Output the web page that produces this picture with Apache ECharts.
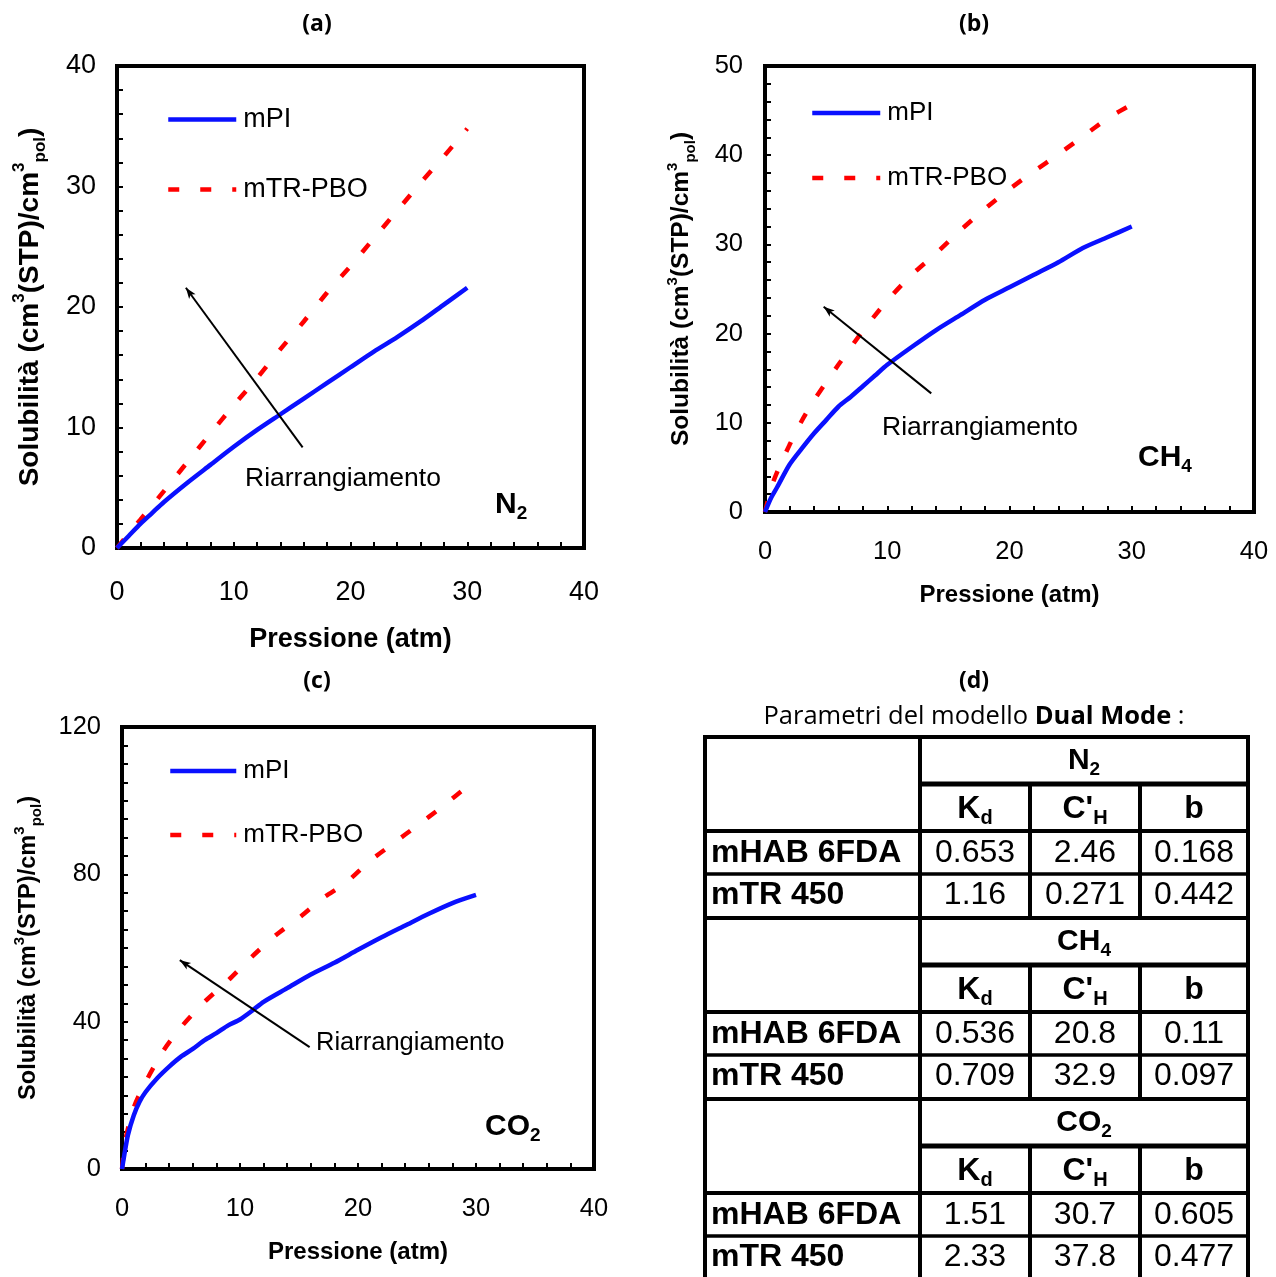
<!DOCTYPE html>
<html>
<head>
<meta charset="utf-8">
<script src="https://cdn.jsdelivr.net/npm/echarts@6/dist/echarts.min.js"></script>
<style>
html,body{margin:0;padding:0;background:#fff;}
#chart{width:1276px;height:1277px;}
</style>
</head>
<body>
<div id="chart"></div>
<script>
// ---------------- DATA ----------------
// (a) N2
const xA_mPI = [0,1,2,3,4,6,8,10,12,14,16,18,20,22,24,26,28,30];
const yA_mPI = [0,1.0,2.0,2.9,3.8,5.4,6.9,8.4,9.8,11.1,12.4,13.7,15.0,16.3,17.5,18.8,20.2,21.6];
const xA_TR  = [0,1,2,4,6,8,10,12,14,16,18,20,22,24,26,28,30];
const yA_TR  = [0,1.2,2.35,4.7,7.1,9.5,11.85,14.1,16.5,18.8,21.2,23.4,25.7,28.0,30.3,32.5,34.8];
// (b) CH4
const xB_mPI = [0,0.5,1,2,3,4,5,6,7,8,9,10,12,14,16,18,20,22,24,26,28,30];
const yB_mPI = [0,1.6,2.8,5.3,7.1,8.8,10.3,11.8,12.9,14.1,15.3,16.5,18.5,20.4,22.1,23.8,25.2,26.6,28.0,29.6,30.8,32.0];
const xB_TR  = [0,0.5,1,2,3,4,6,8,10,12,14,16,18,20,22,24,26,28,30];
const yB_TR  = [0,2.7,4.5,7.5,10.2,12.5,16.5,20.3,23.7,26.6,29.0,31.6,34.0,36.2,38.2,40.1,42.1,44.1,45.7];
// (c) CO2
const xC_mPI = [0,0.2,0.5,1,1.5,2,3,4,5,6,7,8,9,10,11,12,14,16,18,20,22,24,26,28,30];
const yC_mPI = [0,3.9,9.2,14.6,18.3,20.9,24.7,27.8,30.5,32.6,35.0,36.9,39.0,40.6,42.9,45.4,49.1,52.8,56.0,59.5,62.9,66.1,69.3,72.2,74.4];
const xC_TR  = [0,0.3,1,2,3.5,5,7,9,11,13,15,17,19,21,23,25,27,29.5,30];
const yC_TR  = [0,8,16.7,23.6,32.1,38.5,45.4,51.2,57.6,63.4,68.2,73.5,77.8,83.6,88.4,93.2,98.0,104.4,105];

// arrows (tail -> head) in data coordinates
const arrowA = [[15.9,8.35],[5.9,21.6]];
const arrowB = [[13.6,13.3],[4.8,23.0]];
const arrowC = [[15.9,33.1],[4.9,56.7]];

const seriesNames = ['mPI','mTR-PBO'];
const panelTitles = ['(a)','(b)','(c)','(d)'];
const annotText = 'Riarrangiamento';
const gasLabels = [['N','2'],['CH','4'],['CO','2']];
const paramLabels = [['K','d'],["C'",'H'],['b','']];
const materials = ['mHAB 6FDA','mTR 450'];
const valuesN2  = [[0.653,2.46,0.168],[1.16,0.271,0.442]];
const valuesCH4 = [[0.536,20.8,0.11],[0.709,32.9,0.097]];
const valuesCO2 = [[1.51,30.7,0.605],[2.33,37.8,0.477]];
const tableValues = [valuesN2, valuesCH4, valuesCO2];

// ---------------- HELPERS ----------------
const FONT = '"Liberation Sans", Arial, sans-serif';
const CAL = '"Open Sans", Lato, sans-serif';
function zip(xs, ys){ return xs.map((x,i)=>[x, ys[i]]); }

function yName(){ return '{m|Solubilità (cm}{p|3}{m|(STP)/cm}{p|3}{q|pol}{m|)}'; }
function yNameStyle(fs){
  const lh = Math.round(fs*1.35);
  const ss = Math.round(fs*0.62);
  return {
    rich: {
      m: {fontSize: fs, fontWeight: 'bold', fontFamily: FONT, color: '#000', lineHeight: lh},
      p: {fontSize: ss, fontWeight: 'bold', fontFamily: FONT, color: '#000', lineHeight: ss, verticalAlign: 'top'},
      q: {fontSize: ss, fontWeight: 'bold', fontFamily: FONT, color: '#000', lineHeight: ss, verticalAlign: 'bottom'}
    }
  };
}

function xAxisCfg(gi, fs, nameFs, nameGap, labelMargin){
  return {
    type: 'value', gridIndex: gi, min: 0, max: 40, interval: 10,
    name: 'Pressione (atm)', nameLocation: 'middle', nameGap: nameGap,
    nameTextStyle: {fontSize: nameFs, fontWeight: 'bold', fontFamily: FONT, color: '#000'},
    axisLine: {show: true, onZero: false, lineStyle: {color: '#000', width: 4}},
    axisTick: {show: true, inside: true, length: 6, lineStyle: {color: '#000', width: 2}},
    minorTick: {show: true, splitNumber: 5, length: 6, lineStyle: {color: '#000', width: 2}},
    axisLabel: {fontSize: fs, fontFamily: FONT, color: '#000', margin: labelMargin},
    splitLine: {show: false}, minorSplitLine: {show: false}
  };
}
function yAxisCfg(gi, max, interval, minorSplit, fs, nameFs, nameGap, labelMargin){
  return {
    type: 'value', gridIndex: gi, min: 0, max: max, interval: interval,
    name: yName(), nameLocation: 'middle', nameGap: nameGap, nameRotate: 90,
    nameTextStyle: yNameStyle(nameFs),
    axisLine: {show: true, onZero: false, lineStyle: {color: '#000', width: 4}},
    axisTick: {show: true, inside: true, length: 6, lineStyle: {color: '#000', width: 2}},
    minorTick: {show: true, splitNumber: minorSplit, length: 6, lineStyle: {color: '#000', width: 2}},
    axisLabel: {fontSize: fs, fontFamily: FONT, color: '#000', margin: labelMargin},
    splitLine: {show: false}, minorSplitLine: {show: false}
  };
}
function arrowLine(arr){
  return {
    silent: true, animation: false,
    symbol: ['none','arrow'], symbolSize: [6, 11],
    lineStyle: {color: '#000', width: 2, type: 'solid'},
    label: {show: false},
    emphasis: {disabled: true},
    data: [[{coord: arr[0]}, {coord: arr[1]}]]
  };
}
function blueSeries(gi, data){
  return {name: seriesNames[0], type: 'line', xAxisIndex: gi, yAxisIndex: gi, data: data,
    symbol: 'none', smooth: 0.25, color: '#0a10ff',
    lineStyle: {color: '#0a10ff', width: 4.5, type: 'solid'}, z: 3};
}
function redSeries(gi, data, arr){
  return {name: seriesNames[1], type: 'line', xAxisIndex: gi, yAxisIndex: gi, data: data,
    symbol: 'none', smooth: 0.25, color: '#ff0000',
    lineStyle: {color: '#ff0000', width: 4.5, type: [11, 21]}, z: 2,
    markLine: arrowLine(arr)};
}
function legendCfg(left, top, gap, fs, w){
  return {left: left, top: top, orient: 'vertical', itemWidth: w, itemHeight: 14, itemGap: gap,
    padding: 0, selectedMode: false, data: seriesNames.slice(),
    itemStyle: {opacity: 0, borderWidth: 0},
    lineStyle: {width: 4.5},
    textStyle: {fontSize: fs, fontFamily: FONT, color: '#000', padding: [0,0,0,2]}};
}

// ---------------- GRAPHIC (titles, annotations, table) ----------------
const graphic = [];
function txt(x, y, text, style){
  graphic.push({type: 'text', x: x, y: y, silent: true, style: Object.assign({text: text, fill: '#000'}, style)});
}
// panel titles
const titlePos = [[317,24],[974,24],[317,681],[974,681]];
panelTitles.forEach((t,i)=>txt(titlePos[i][0], titlePos[i][1], t,
  {fontSize: 23, fontWeight: 'bold', fontFamily: CAL, align: 'center', verticalAlign: 'middle'}));

// annotation labels
const annotPos = [[245,479,26.5],[882,428,26.5],[316,1043,25.5]];
annotPos.forEach(p=>txt(p[0], p[1], annotText,
  {fontSize: p[2], fontFamily: FONT, align: 'left', verticalAlign: 'middle'}));

function subRich(fs, ss){
  return {
    a: {fontSize: fs, fontWeight: 'bold', fontFamily: FONT, fill: '#000', lineHeight: Math.round(fs*1.2)},
    s: {fontSize: ss, fontWeight: 'bold', fontFamily: FONT, fill: '#000', lineHeight: ss, verticalAlign: 'bottom'}
  };
}
const gasPos = [[495,505],[1138,458],[485,1127]];
gasLabels.forEach((g,i)=>txt(gasPos[i][0], gasPos[i][1], '{a|'+g[0]+'}{s|'+g[1]+'}',
  {rich: subRich(30, 19), align: 'left', verticalAlign: 'middle'}));

// table subtitle
txt(974, 717, '{n|Parametri del modello }{b|Dual Mode}{n| :}', {
  align: 'center', verticalAlign: 'middle',
  rich: {
    n: {fontSize: 25.5, fontFamily: CAL, fill: '#000'},
    b: {fontSize: 25.5, fontFamily: CAL, fontWeight: 'bold', fill: '#000'}
  }
});

// table geometry
const TX0 = 705, TX1 = 920, TXc = [920, 1030, 1140, 1248], TY0 = 737, SEC = 181;
function hline(x1, x2, y, w){
  graphic.push({type: 'line', silent: true, shape: {x1: x1, y1: y, x2: x2, y2: y}, style: {stroke: '#000', lineWidth: w}});
}
function vline(x, y1, y2, w){
  graphic.push({type: 'line', silent: true, shape: {x1: x, y1: y1, x2: x, y2: y2}, style: {stroke: '#000', lineWidth: w}});
}
const TBOT = 1280;
vline(TX0, TY0-2, TBOT, 4);
vline(TX1, TY0-2, TBOT, 4);
vline(TXc[3], TY0-2, TBOT, 4);
for (let s = 0; s < 3; s++){
  const T = TY0 + s*SEC;
  hline(TX0-2, TXc[3]+2, T, 4);
  hline(TX1, TXc[3]+2, T+47, 5);
  hline(TX0-2, TXc[3]+2, T+94, 4);
  hline(TX0-2, TXc[3]+2, T+137, 3.5);
  vline(TXc[1], T+47, T+SEC, 4);
  vline(TXc[2], T+47, T+SEC, 4);
  // gas header
  txt((TX1+TXc[3])/2, T+24, '{a|'+gasLabels[s][0]+'}{s|'+gasLabels[s][1]+'}',
    {rich: subRich(30, 19), align: 'center', verticalAlign: 'middle'});
  // parameter headers
  for (let c = 0; c < 3; c++){
    const cx = (TXc[c]+TXc[c+1])/2;
    const p = paramLabels[c];
    const t = p[1] ? '{a|'+p[0]+'}{s|'+p[1]+'}' : '{a|'+p[0]+'}';
    txt(cx, T+72, t, {rich: subRich(32, 20), align: 'center', verticalAlign: 'middle'});
  }
  // material rows
  for (let r = 0; r < 2; r++){
    const cy = T + (r === 0 ? 116 : 158);
    txt(711, cy, materials[r], {fontSize: 32, fontWeight: 'bold', fontFamily: FONT, align: 'left', verticalAlign: 'middle'});
    for (let c = 0; c < 3; c++){
      const cx = (TXc[c]+TXc[c+1])/2;
      txt(cx, cy, String(tableValues[s][r][c]), {fontSize: 32, fontFamily: FONT, align: 'center', verticalAlign: 'middle'});
    }
  }
}

// ---------------- OPTION ----------------
const option = {
  animation: false,
  backgroundColor: '#fff',
  grid: [
    {left: 117, top: 66, width: 467, height: 482, show: true, borderColor: '#000', borderWidth: 4, outerBoundsMode: 'none', containLabel: false},
    {left: 765, top: 66, width: 489, height: 446, show: true, borderColor: '#000', borderWidth: 4, outerBoundsMode: 'none', containLabel: false},
    {left: 122, top: 727, width: 472, height: 442, show: true, borderColor: '#000', borderWidth: 4, outerBoundsMode: 'none', containLabel: false}
  ],
  xAxis: [
    xAxisCfg(0, 27, 27, 78, 31),
    xAxisCfg(1, 25.5, 24, 71, 27),
    xAxisCfg(2, 25.5, 24, 71, 27)
  ],
  yAxis: [
    yAxisCfg(0, 40, 10, 5, 27, 28, 68, 21),
    yAxisCfg(1, 50, 10, 5, 25.5, 24.5, 67, 22),
    yAxisCfg(2, 120, 40, 8, 25.5, 23.6, 78, 21)
  ],
  legend: [
    legendCfg(166, 106, 43, 27, 68),
    legendCfg(810, 100, 39, 26, 68),
    legendCfg(168, 758, 38, 26, 66)
  ],
  series: [
    blueSeries(0, zip(xA_mPI, yA_mPI)),
    redSeries(0, zip(xA_TR, yA_TR), arrowA),
    blueSeries(1, zip(xB_mPI, yB_mPI)),
    redSeries(1, zip(xB_TR, yB_TR), arrowB),
    blueSeries(2, zip(xC_mPI, yC_mPI)),
    redSeries(2, zip(xC_TR, yC_TR), arrowC)
  ],
  graphic: graphic
};

const chart = echarts.init(document.getElementById('chart'), null, {renderer: 'canvas'});
chart.setOption(option);
</script>
</body>
</html>
